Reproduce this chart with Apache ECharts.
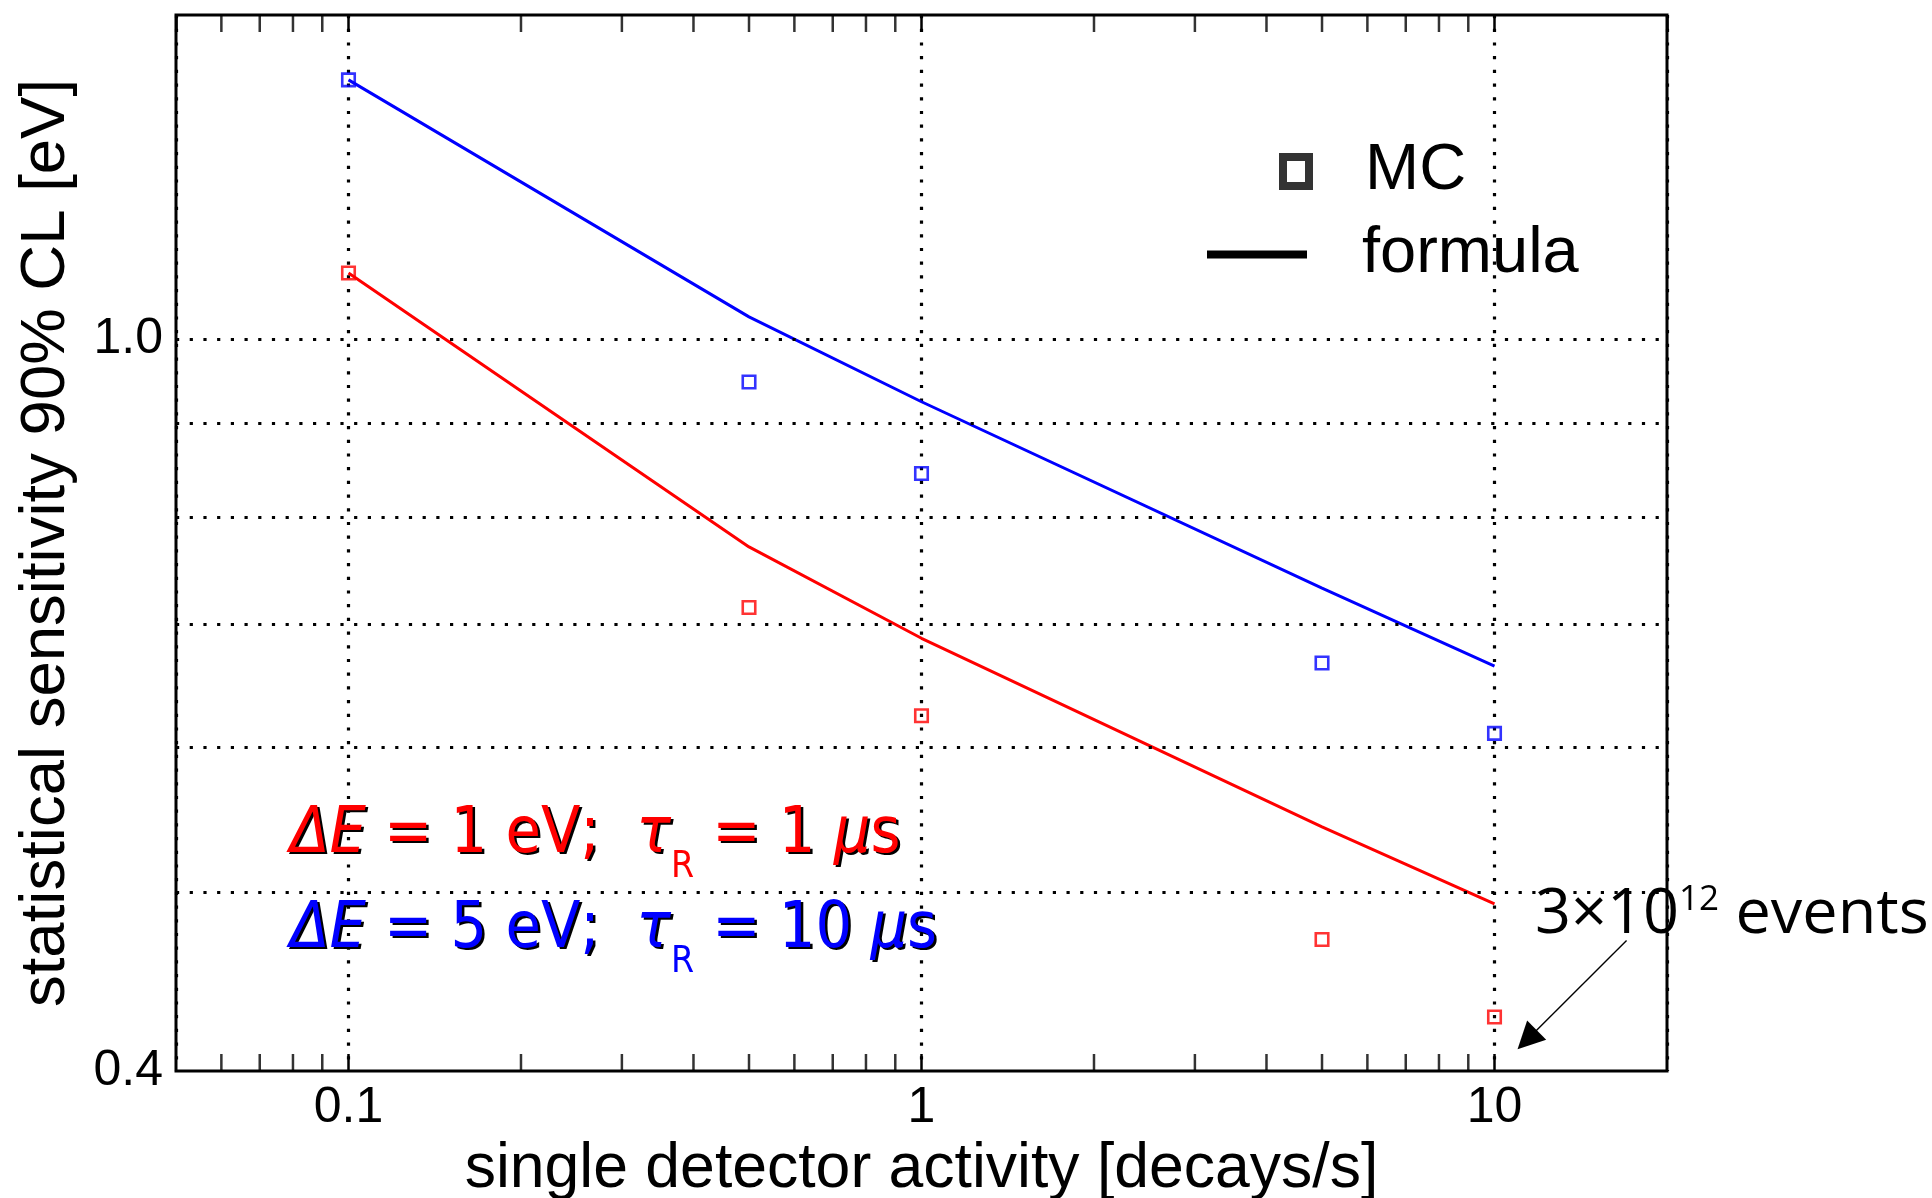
<!DOCTYPE html>
<html>
<head>
<meta charset="utf-8">
<script src="https://cdn.jsdelivr.net/npm/echarts@6/dist/echarts.min.js"></script>
<style>
  html, body { margin: 0; padding: 0; background: #ffffff; }
  #chart { width: 1932px; height: 1198px; }
</style>
</head>
<body>
<div id="chart"></div>
<script>
// Detector activity values [decays/s] at which sensitivity was evaluated
const activity = [0.1, 0.5, 1, 5, 10];

// Monte Carlo sensitivities [eV]
const mcSharp = [1.086, 0.7145, 0.624, 0.4716, 0.428];   // ΔE = 1 eV, τR = 1 µs
const mcBroad = [1.383, 0.9475, 0.845, 0.6666, 0.6104];  // ΔE = 5 eV, τR = 10 µs

// Analytic formula sensitivities [eV]
const formulaSharp = [1.086, 0.7708, 0.6875, 0.543, 0.493];
const formulaBroad = [1.383, 1.028, 0.9244, 0.732, 0.664];

// Axis decorations
const xMinorTicks = [0.06, 0.07, 0.08, 0.09, 0.2, 0.3, 0.4, 0.5, 0.6, 0.7, 0.8, 0.9, 2, 3, 4, 5, 6, 7, 8, 9];
const yGridValues = [0.5, 0.6, 0.7, 0.8, 0.9, 1.0];
const yTickLabels = [0.4, 1.0];
const xRange = [0.05, 20];
const yRange = [0.4, 1.5];

// Annotation arrow (data coordinates) pointing at the 10 decays/s point
const arrowFrom = [17, 0.471];
const arrowTo = [11.4, 0.416];

const RED = '#ff0000';
const BLUE = '#0000ff';
const dotted = { color: '#000', width: 3.2, type: [3.2, 10.5] };
const labelFont = 'DejaVu Sans Condensed, DejaVu Sans';

const pair = (xs, ys) => xs.map((x, i) => [x, ys[i]]);

const chart = echarts.init(document.getElementById('chart'), null, { renderer: 'canvas' });

const tickFont = { fontFamily: 'Liberation Sans', fontSize: 50, color: '#000' };

// horizontal grid lines + labelled y values
const yMarkData = [];
yGridValues.forEach(v => {
  yMarkData.push({ yAxis: v, label: { show: yTickLabels.includes(v) } });
});
yTickLabels.forEach(v => {
  if (!yGridValues.includes(v)) {
    yMarkData.push({ yAxis: v, lineStyle: { color: 'rgba(0,0,0,0)', width: 1, type: 'solid' }, label: { show: true } });
  }
});

// rich styles for the parameter captions; a black copy drawn slightly offset gives the drop shadow
function conditionRich(color, subColor) {
  return {
    n: { fontFamily: labelFont, fontSize: 64, lineHeight: 100, verticalAlign: 'middle', fill: color },
    i: { fontFamily: labelFont, fontStyle: 'italic', fontSize: 64, lineHeight: 100, verticalAlign: 'middle', fill: color },
    s: { fontFamily: labelFont, fontSize: 37, lineHeight: 100, height: 36, verticalAlign: 'bottom', fill: subColor }
  };
}

function conditionCaption(text, color, left, top) {
  return [
    { type: 'text', left: left + 2.5, top: top + 2.5, z: 99, silent: true,
      style: { text: text, fill: '#000', rich: conditionRich('#000', 'rgba(0,0,0,0)') } },
    { type: 'text', left: left, top: top, z: 100, silent: true,
      style: { text: text, fill: color, rich: conditionRich(color, color) } }
  ];
}

const option = {
  animation: false,
  backgroundColor: '#ffffff',
  grid: {
    left: 176, top: 15, width: 1491, height: 1056,
    outerBoundsMode: 'none', containLabel: false,
    show: true, borderColor: '#000', borderWidth: 3, backgroundColor: 'transparent'
  },
  xAxis: [
    {
      type: 'log', logBase: 10, min: xRange[0], max: xRange[1], position: 'bottom',
      name: 'single detector activity [decays/s]',
      nameLocation: 'middle', nameGap: 65,
      nameTextStyle: { fontFamily: 'Liberation Sans', fontSize: 62.5, color: '#000' },
      axisLine: { show: false },
      axisTick: { show: true, inside: true, length: 17, lineStyle: { color: '#000', width: 2.5 } },
      axisLabel: Object.assign({ margin: 12, showMinLabel: false, showMaxLabel: false }, tickFont),
      splitLine: { show: true, lineStyle: dotted }
    },
    {
      type: 'log', logBase: 10, min: xRange[0], max: xRange[1], position: 'top',
      axisLine: { show: false },
      axisTick: { show: true, inside: true, length: 17, lineStyle: { color: '#000', width: 2.5 } },
      axisLabel: { show: false },
      splitLine: { show: false }
    }
  ],
  yAxis: {
    type: 'log', logBase: 10, min: yRange[0], max: yRange[1],
    name: 'statistical sensitivity 90% CL [eV]',
    nameLocation: 'middle', nameGap: 98,
    nameTextStyle: { fontFamily: 'Liberation Sans', fontSize: 63.5, color: '#000' },
    axisLine: { show: false },
    axisTick: { show: false },
    axisLabel: { show: false },
    splitLine: { show: false }
  },
  legend: [
    {
      data: ['MC'], selectedMode: false, orient: 'vertical',
      left: 1279, top: 139, padding: 0,
      icon: 'rect', itemWidth: 26, itemHeight: 29,
      itemStyle: { color: 'rgba(0,0,0,0)', borderColor: '#000', borderWidth: 8 },
      textStyle: { fontFamily: 'Liberation Sans', fontSize: 65, color: '#000', padding: [0, 0, 0, 51] }
    },
    {
      data: ['formula'], selectedMode: false, orient: 'vertical',
      left: 1207, top: 222, padding: 0,
      icon: 'rect', itemWidth: 100, itemHeight: 8,
      itemStyle: { color: '#000', borderWidth: 0 },
      textStyle: { fontFamily: 'Liberation Sans', fontSize: 65, color: '#000', padding: [0, 0, 0, 50] }
    }
  ],
  graphic: [].concat(
    conditionCaption('{i|ΔE}{n| = 1 eV;  }{i|τ}{s|R}{n| = 1 }{i|μ}{n|s}', RED, 290, 803),
    conditionCaption('{i|ΔE}{n| = 5 eV;  }{i|τ}{s|R}{n| = 10 }{i|μ}{n|s}', BLUE, 290, 898),
    [{
      type: 'text', left: 1535, top: 865, z: 100, silent: true,
      style: {
        text: '{n|3×10}{p|12}{n| events}',
        fill: '#000',
        rich: {
          n: { fontFamily: 'Open Sans', fontSize: 63, lineHeight: 100, verticalAlign: 'middle', fill: '#000' },
          p: { fontFamily: 'Open Sans', fontSize: 35, lineHeight: 100, height: 70, verticalAlign: 'top', fill: '#000' }
        }
      }
    }]
  ),
  series: [
    {
      name: 'grid lines', type: 'line', data: [], z: 1, silent: true,
      markLine: {
        silent: true, symbol: ['none', 'none'], animation: false,
        lineStyle: dotted,
        label: {
          position: 'start', distance: 13,
          formatter: p => Number(p.value).toFixed(1),
          fontFamily: 'Liberation Sans', fontSize: 50, color: '#000', opacity: 1
        },
        emphasis: { disabled: true },
        data: yMarkData
      }
    },
    {
      name: 'minor ticks bottom', type: 'scatter', silent: true, clip: false, z: 3,
      symbol: 'rect', symbolSize: [2.5, 17], symbolOffset: [0, -8.5],
      itemStyle: { color: '#000' },
      data: xMinorTicks.map(x => [x, yRange[0]])
    },
    {
      name: 'minor ticks top', type: 'scatter', silent: true, clip: false, z: 3,
      symbol: 'rect', symbolSize: [2.5, 17], symbolOffset: [0, 8.5],
      itemStyle: { color: '#000' },
      data: xMinorTicks.map(x => [x, yRange[1]])
    },
    {
      name: 'formula ΔE = 1 eV', type: 'line', symbol: 'none', z: 4,
      lineStyle: { color: RED, width: 3 }, itemStyle: { color: RED },
      data: pair(activity, formulaSharp)
    },
    {
      name: 'formula ΔE = 5 eV', type: 'line', symbol: 'none', z: 4,
      lineStyle: { color: BLUE, width: 3 }, itemStyle: { color: BLUE },
      data: pair(activity, formulaBroad)
    },
    {
      name: 'MC ΔE = 1 eV', type: 'scatter', symbol: 'rect', symbolSize: 12.5, z: 5,
      itemStyle: { color: 'rgba(0,0,0,0)', borderColor: RED, borderWidth: 2.6 },
      data: pair(activity, mcSharp)
    },
    {
      name: 'MC ΔE = 5 eV', type: 'scatter', symbol: 'rect', symbolSize: 12.5, z: 5,
      itemStyle: { color: 'rgba(0,0,0,0)', borderColor: BLUE, borderWidth: 2.6 },
      data: pair(activity, mcBroad)
    },
    {
      name: 'MC', type: 'scatter', data: [], itemStyle: { color: '#000' }
    },
    {
      name: 'formula', type: 'line', data: [], symbol: 'none', itemStyle: { color: '#000' }, lineStyle: { color: '#000' },
      markLine: {
        silent: true, animation: false,
        symbol: ['none', 'triangle'], symbolSize: 27,
        lineStyle: { color: '#000', width: 1.4, type: 'solid' },
        itemStyle: { color: '#000' },
        label: { show: false },
        emphasis: { disabled: true },
        data: [[{ coord: arrowFrom }, { coord: arrowTo }]]
      }
    }
  ]
};

chart.setOption(option);
</script>
</body>
</html>
